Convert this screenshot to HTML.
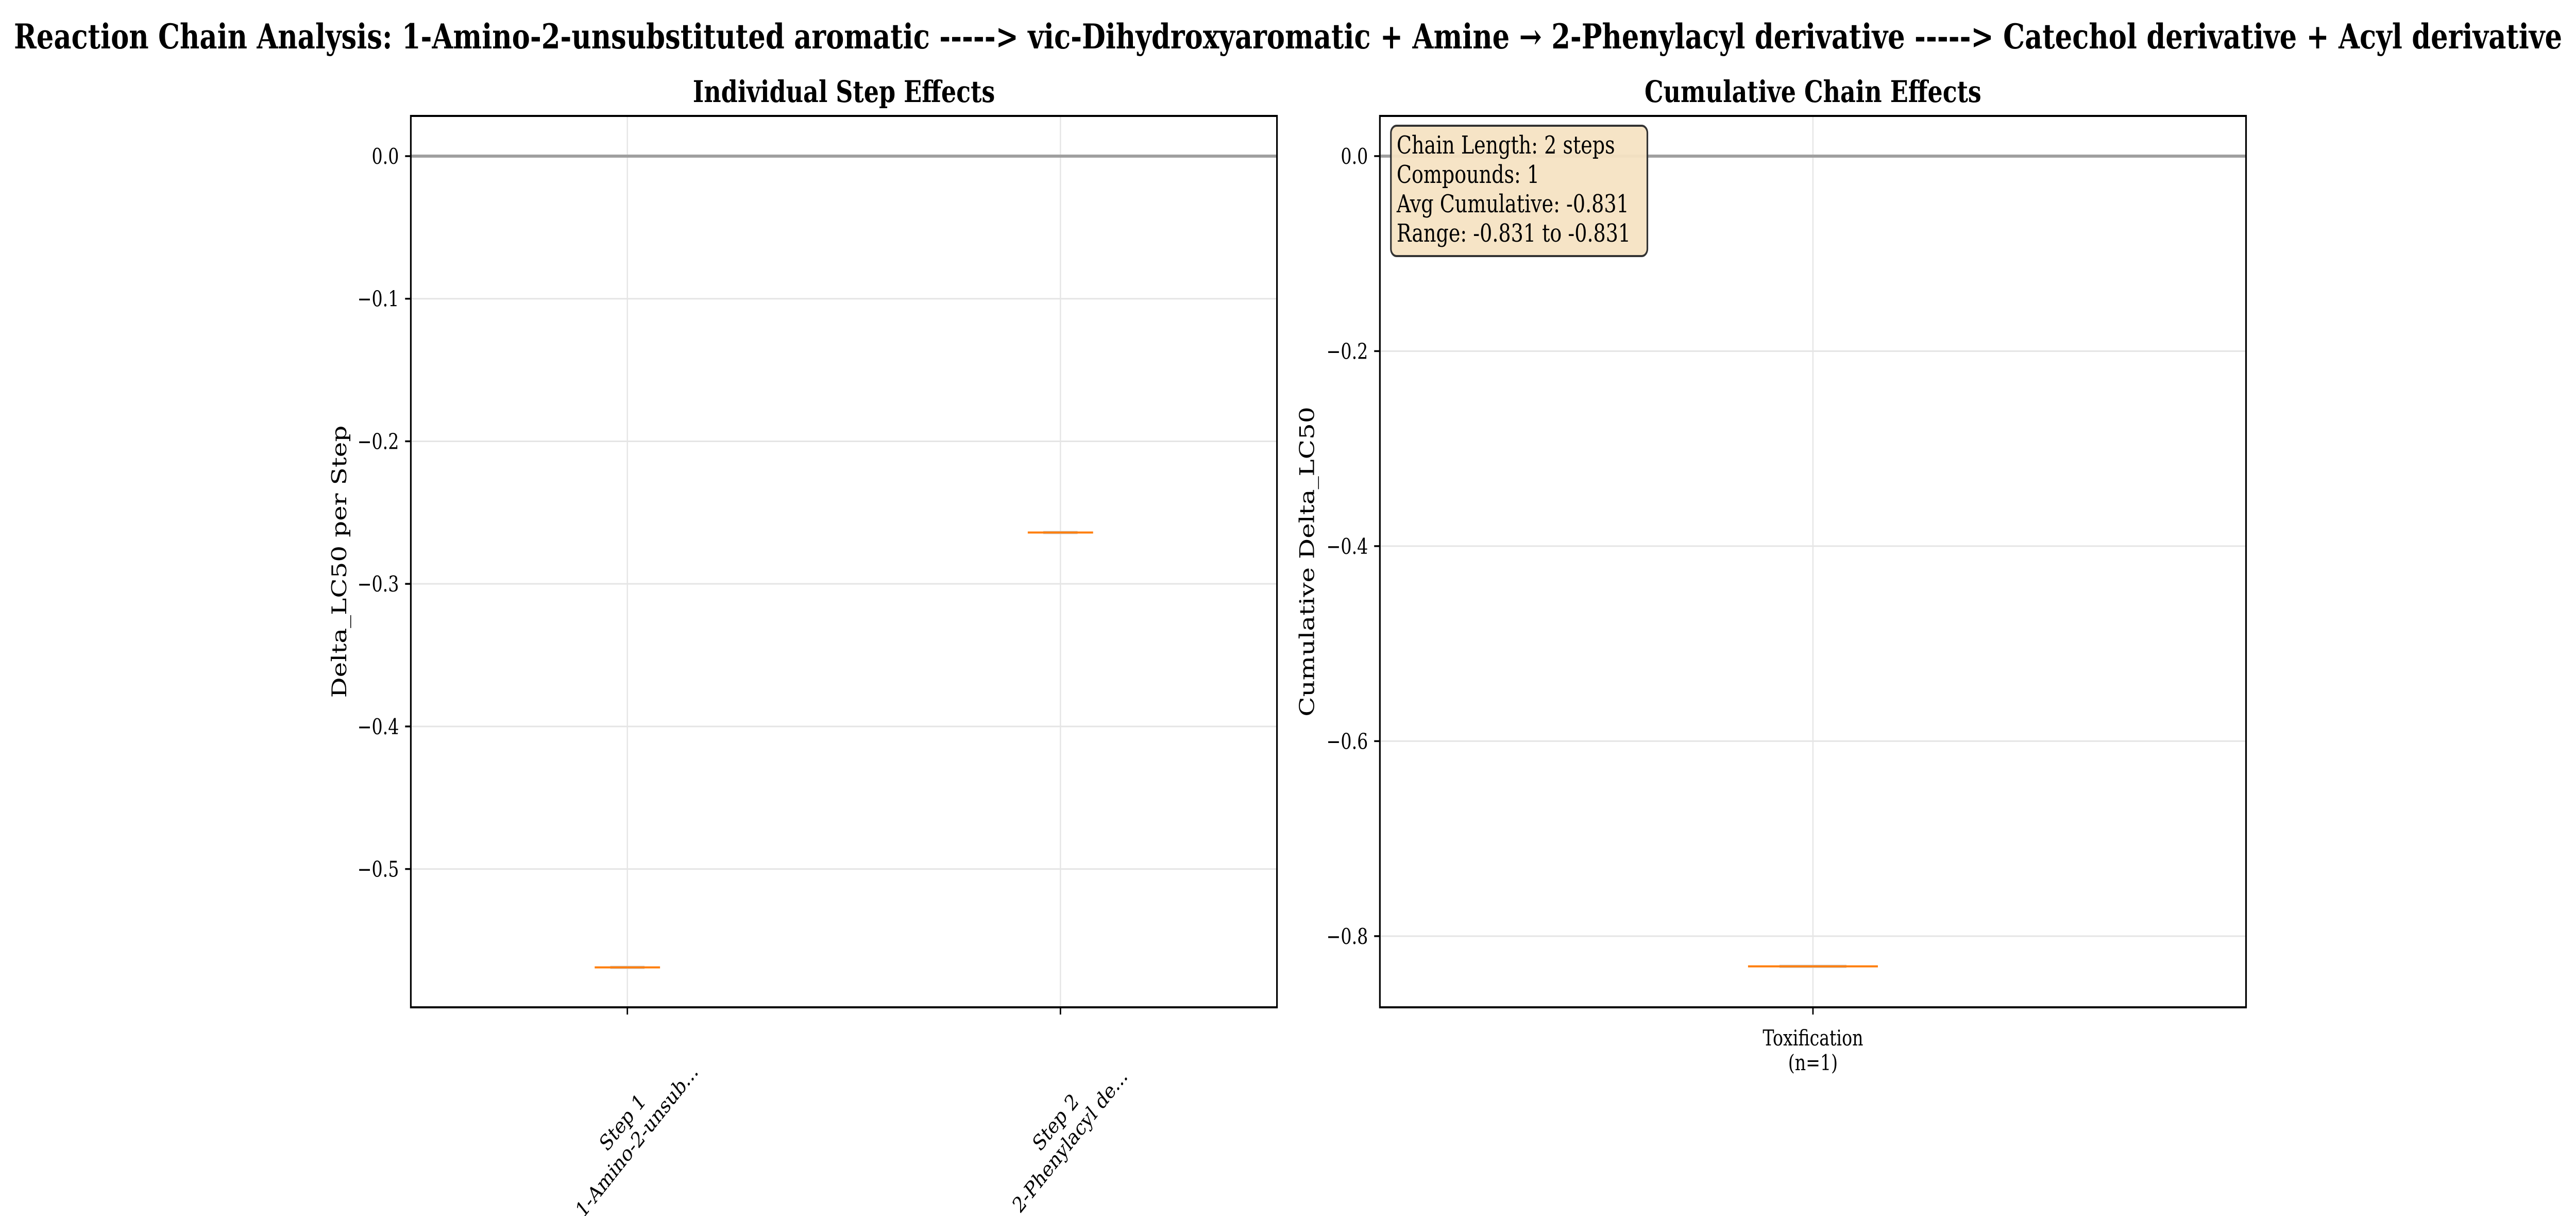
<!DOCTYPE html>
<html><head><meta charset="utf-8"><style>
html,body{margin:0;padding:0;background:#fff;overflow:hidden;width:100%;height:100%}
svg{display:block;width:100vw;height:100vh;font-family:"DejaVu Serif","Liberation Serif",serif}
</style></head><body>
<svg id="chart" viewBox="0 0 6308 2360" preserveAspectRatio="none" xmlns="http://www.w3.org/2000/svg">
<rect width="6308" height="2360" fill="#fff"/>
<text x="3154" y="94" text-anchor="middle" font-size="66" font-weight="bold" textLength="6240" lengthAdjust="spacingAndGlyphs">Reaction Chain Analysis: 1-Amino-2-unsubstituted aromatic -----&gt; vic-Dihydroxyaromatic + Amine → 2-Phenylacyl derivative -----&gt; Catechol derivative + Acyl derivative</text>
<g id="left"></g>
<g id="right"></g>
</svg>
<script>
const stepCategories = ["Step 1\n1-Amino-2-unsub...", "Step 2\n2-Phenylacyl de..."];
const stepValues = [-0.569, -0.264];
const stepYTicks = [0.0, -0.1, -0.2, -0.3, -0.4, -0.5];
const chainCategories = ["Toxification\n(n=1)"];
const chainValues = [-0.831];
const chainYTicks = [0.0, -0.2, -0.4, -0.6, -0.8];
const NS = "http://www.w3.org/2000/svg";
function mk(parent, tag, attrs, text) {
  const e = document.createElementNS(NS, tag);
  for (const k in attrs) e.setAttribute(k, attrs[k]);
  if (text !== undefined) e.textContent = text;
  parent.appendChild(e);
  return e;
}
function drawPanel(g, cfg) {
  const {x0, x1, y0, y1, ymin, ymax, cats, vals, ticks, title, ylabel, ylabelX, medHalf, boxHalf, rotate} = cfg;
  const n = cats.length;
  const sx = v => x0 + (v - 0.5) / n * (x1 - x0);
  const sy = v => y1 - (v - ymin) / (ymax - ymin) * (y1 - y0);
  ticks.forEach(t => {
    const l = mk(g, "line", {x1: x0, x2: x1, y1: sy(t), y2: sy(t), stroke: "#e5e5e5", "stroke-width": 3});
    
    
  });
  cats.forEach((c, i) => {
    const l = mk(g, "line", {x1: sx(i + 1), x2: sx(i + 1), y1: y0, y2: y1, stroke: "#e5e5e5", "stroke-width": 3});
    
    
  });
  const z = mk(g, "line", {x1: x0, x2: x1, y1: sy(0), y2: sy(0), stroke: "#a0a0a0", "stroke-width": 6});
  
  
  vals.forEach((v, i) => {
    const cx = sx(i + 1), y = sy(v);
    const b = mk(g, "line", {x1: cx - boxHalf, x2: cx + boxHalf, y1: y, y2: y, stroke: "#c4c4c4", "stroke-width": 6});
    
    
    const m = mk(g, "line", {x1: cx - medHalf, x2: cx + medHalf, y1: y, y2: y, stroke: "#ff7f0e", "stroke-width": 4});
    
    
  });
  const r = mk(g, "rect", {x: x0, y: y0, width: x1 - x0, height: y1 - y0, fill: "none", stroke: "#000", "stroke-width": 4});
  
  
  ticks.forEach(t => {
    const tk = mk(g, "line", {x1: x0 - 14, x2: x0, y1: sy(t), y2: sy(t), stroke: "#000", "stroke-width": 3.5});
    
    
    const lb = mk(g, "text", {x: x0 - 29, y: sy(t) + 15, "text-anchor": "end", "font-size": 42}, (t === 0 ? "0.0" : "\u2212" + Math.abs(t).toFixed(1)));
    
    
  });
  cats.forEach((c, i) => {
    const cx = sx(i + 1);
    const tk = mk(g, "line", {x1: cx, x2: cx, y1: y1, y2: y1 + 14, stroke: "#000", "stroke-width": 3.5});
    
    
    const lines = c.split("\n");
    let t;
    if (rotate) {
      const ccx = cx + 4, ccy = 2194;
      t = mk(g, "text", {x: ccx, y: ccy, "text-anchor": "middle", "font-size": 42, transform: `rotate(-45 ${ccx} ${ccy})`});
      lines.forEach((s, k) => mk(t, "tspan", {x: ccx, dy: k === 0 ? -8 : 50}, s));
    } else {
      t = mk(g, "text", {x: cx, y: y1 + 74, "text-anchor": "middle", "font-size": 42});
      lines.forEach((s, k) => mk(t, "tspan", {x: cx, dy: k === 0 ? 0 : 48}, s));
    }
    
    
  });
  const tt = mk(g, "text", {x: (x0 + x1) / 2, y: 198, "text-anchor": "middle", "font-size": 58, "font-weight": "bold"}, title);
  
  
  const yc = (y0 + y1) / 2;
  const yl = mk(g, "text", {x: ylabelX, y: yc, "text-anchor": "middle", "font-size": 50, transform: `rotate(-90 ${ylabelX} ${yc})`}, ylabel);
  
  
}
const L = document.getElementById("left");


drawPanel(L, {x0: 1006, x1: 3127, y0: 225, y1: 1955, ymin: -0.597, ymax: 0.0282,
  cats: stepCategories, vals: stepValues, ticks: stepYTicks, title: "Individual Step Effects",
  ylabel: "Delta_LC50 per Step", ylabelX: 848, medHalf: 80, boxHalf: 42, rotate: true});
const R = document.getElementById("right");


drawPanel(R, {x0: 3379, x1: 5500, y0: 225, y1: 1955, ymin: -0.873, ymax: 0.0412,
  cats: chainCategories, vals: chainValues, ticks: chainYTicks, title: "Cumulative Chain Effects",
  ylabel: "Cumulative Delta_LC50", ylabelX: 3218, medHalf: 159, boxHalf: 82, rotate: false});
const box = mk(R, "rect", {x: 3406, y: 244, width: 628, height: 253, rx: 14, fill: "#f5e3c3", "fill-opacity": 0.95, stroke: "#333", "stroke-width": 4});


const info = ["Chain Length: 2 steps", "Compounds: 1", "Avg Cumulative: -0.831", "Range: -0.831 to -0.831"];
info.forEach((s, k) => {
  const t = mk(R, "text", {x: 3420, y: 298 + k * 57, "font-size": 48}, s);
  
  
});
</script>
</body></html>
